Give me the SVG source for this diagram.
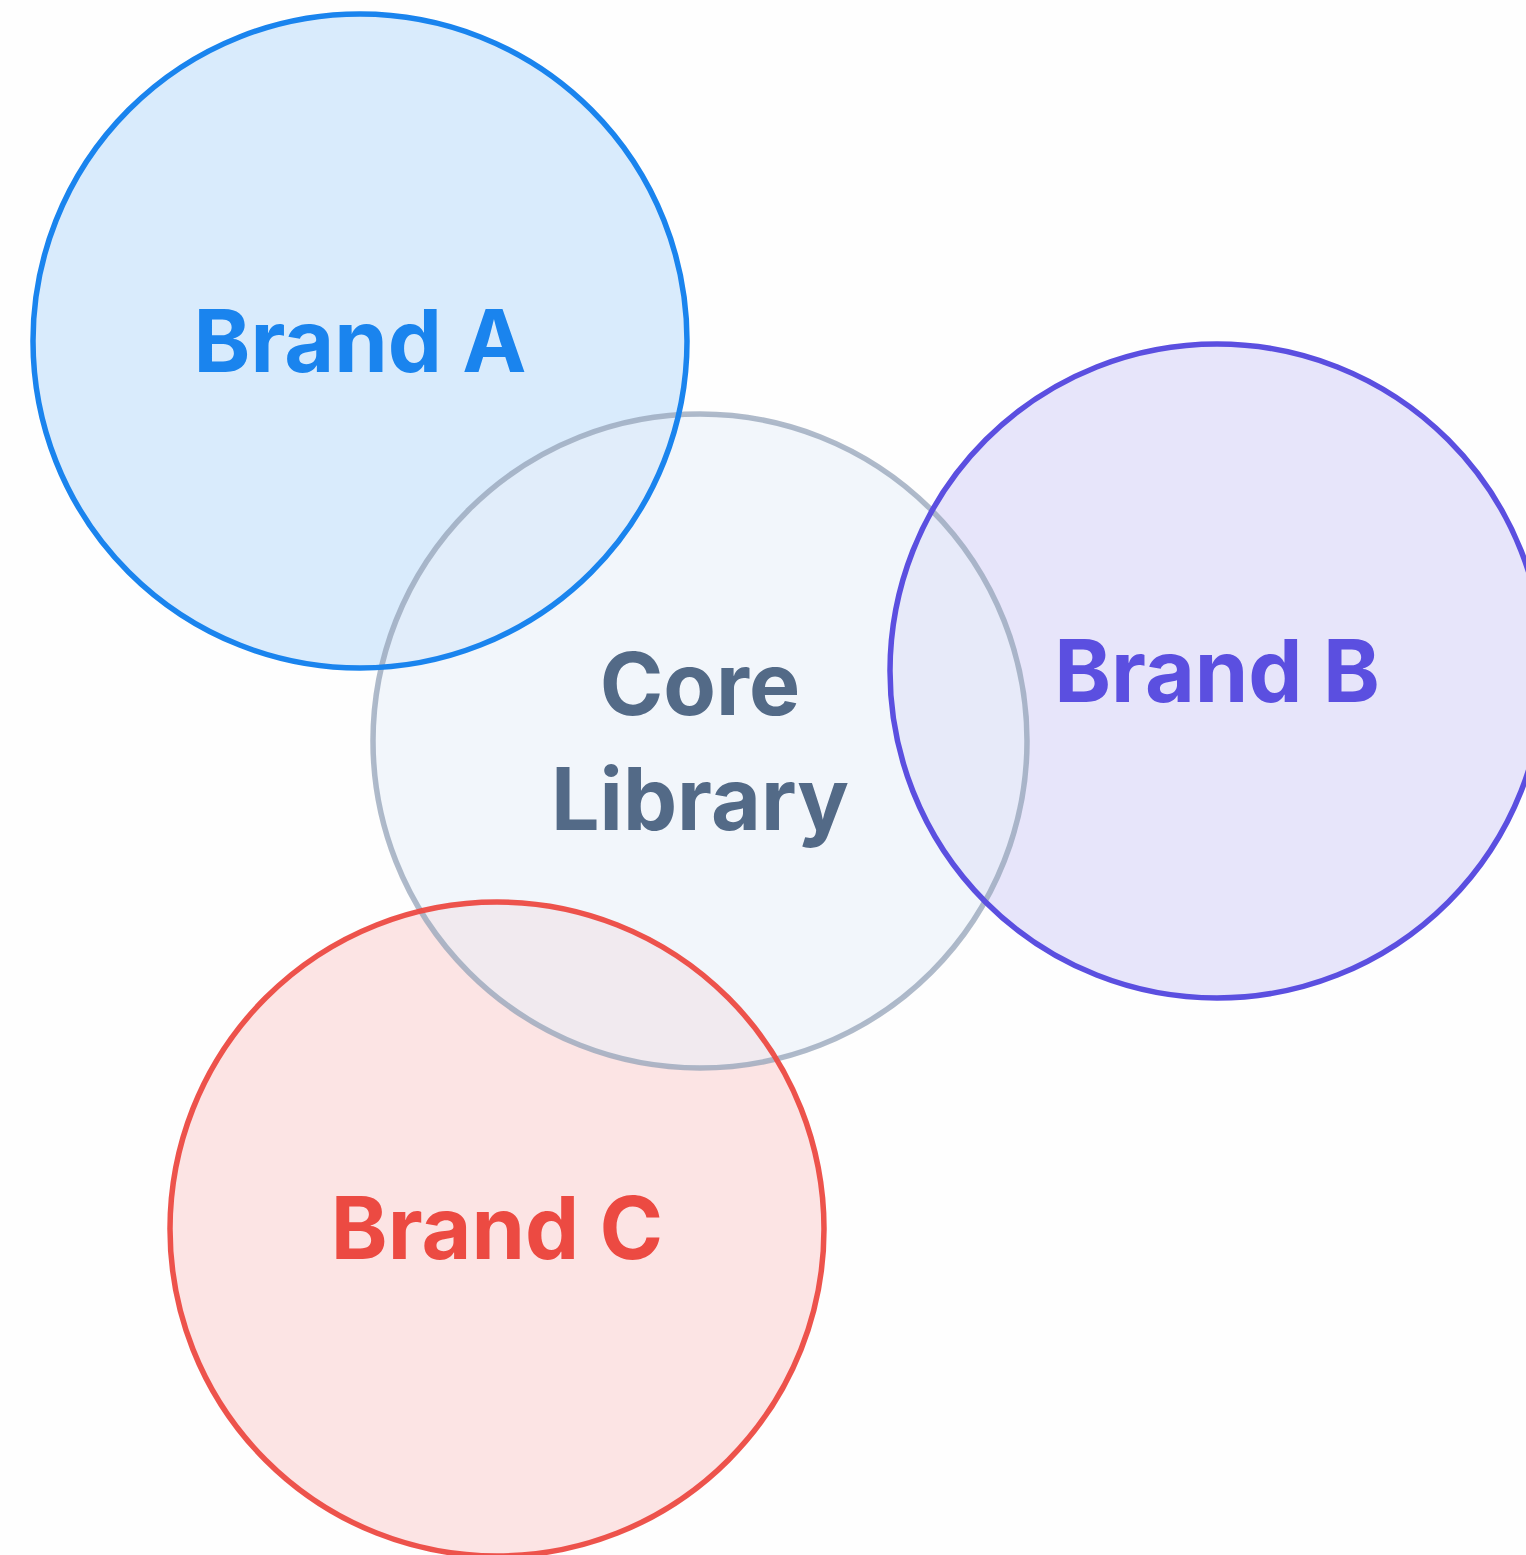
<svg xmlns="http://www.w3.org/2000/svg" width="1526" height="1555" viewBox="0 0 1526 1555">
<style>
.lbl{font-family:Inter,"Liberation Sans",Arial,sans-serif;font-weight:700;font-size:86px;text-anchor:middle}
.c{stroke-width:5.5}
.f{stroke:none}
.s{fill:none;stroke-width:5.5}
</style>
<rect width="1526" height="1555" fill="#fefefe"/>
<g id="brandA">
<circle class="f" cx="360" cy="341" r="327" fill="#1a86f0" fill-opacity="0.16"/>
</g>
<g id="brandB">
<circle class="f" cx="1217" cy="671" r="327" fill="#5b4fe0" fill-opacity="0.14"/>
</g>
<g id="brandC">
<circle class="f" cx="497" cy="1229" r="327" fill="#ef4444" fill-opacity="0.14"/>
</g>
<g id="core">
<circle class="c" cx="700" cy="741" r="327" fill="#e8eff8" fill-opacity="0.55" stroke="#94a3b8" stroke-opacity="0.75"/>
<text class="lbl" x="700" y="715" fill="#536a87">Core</text>
<text class="lbl" x="700" y="830" fill="#536a87">Library</text>
</g>
<g id="brand-outlines">
<circle class="s" cx="360" cy="341" r="327" stroke="#1a84ee"/>
<circle class="s" cx="1217" cy="671" r="327" stroke="#5b4fe0"/>
<circle class="s" cx="497" cy="1229" r="327" stroke="#ec4a42" stroke-opacity="0.95"/>
</g>
<g id="labels">
<text class="lbl" x="360" y="372" fill="#1a84ee">Brand A</text>
<text class="lbl" x="1217" y="702" fill="#5b4fe0">Brand B</text>
<text class="lbl" x="497" y="1259" fill="#ec4a42">Brand C</text>
</g>
<g id="connectors"/>
</svg>
